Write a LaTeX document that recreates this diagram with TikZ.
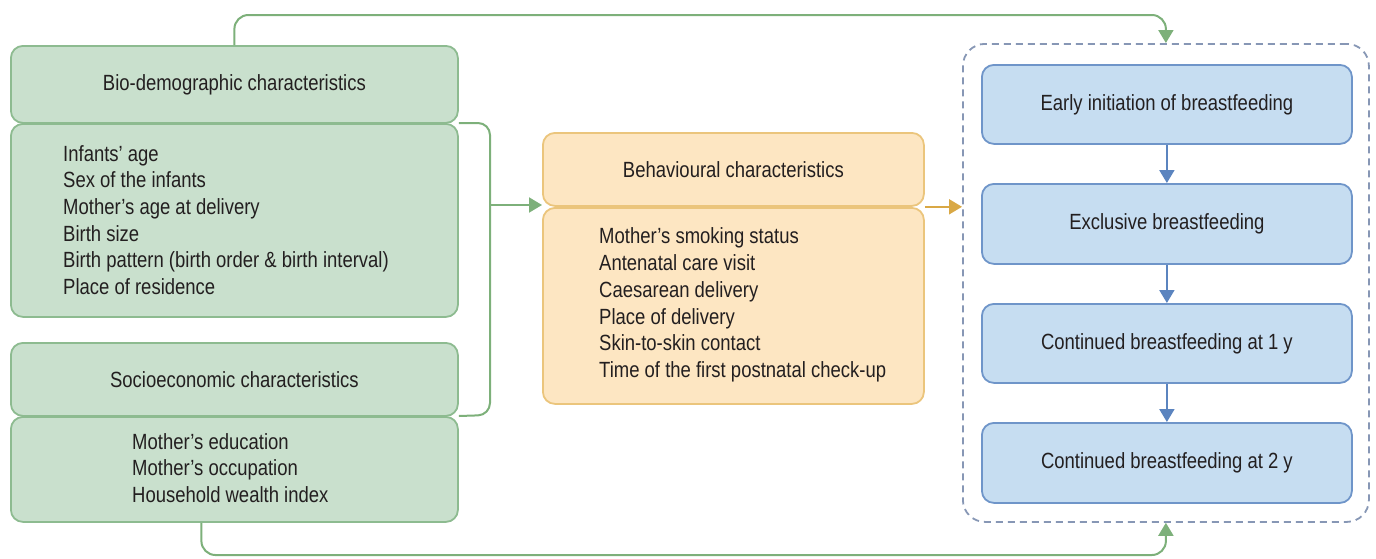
\documentclass[tikz,border=0pt]{standalone}
\usepackage{fontspec}
\setmainfont{Liberation Sans}[FakeStretch=0.84]
\usetikzlibrary{arrows.meta}
\definecolor{gfill}{HTML}{C9E0CD}
\definecolor{gline}{HTML}{8DBB90}
\definecolor{garr}{HTML}{7DB07A}
\definecolor{ofill}{HTML}{FDE6C2}
\definecolor{oline}{HTML}{EBC57C}
\definecolor{oarr}{HTML}{D9A845}
\definecolor{bfill}{HTML}{C6DDF1}
\definecolor{bline}{HTML}{6F95C9}
\definecolor{barr}{HTML}{5B84BF}
\definecolor{dline}{HTML}{8797B5}
\definecolor{txt}{HTML}{231F20}
\begin{document}
\begin{tikzpicture}[x=1pt,y=-1pt,
  every node/.style={text=txt,font=\fontsize{22}{26.7}\selectfont},
  boxbase/.style={draw,line width=1.8pt,rounded corners=12pt,inner sep=0pt,anchor=north west},
  gbox/.style={boxbase,fill=gfill,draw=gline,minimum width=447pt},
  obox/.style={boxbase,fill=ofill,draw=oline,minimum width=381pt},
  bbox/.style={boxbase,fill=bfill,draw=bline,minimum width=370pt},
  listtext/.style={align=left,anchor=west,inner sep=0pt},
  arr/.style={line width=2pt,-{Triangle[width=15pt,length=13pt]}},
]
\useasboundingbox (0,0) rectangle (1376,558);
% dashed outcome frame
\node[draw=dline,line width=1.8pt,dash pattern=on 7pt off 5pt,rounded corners=22pt,
      minimum width=406pt,minimum height=478pt,anchor=north west,inner sep=0pt] (dash) at (962,43) {};
% green boxes
\node[gbox,minimum height=77pt] (bh) at (10,45) {Bio-demographic characteristics};
\node[gbox,minimum height=193pt] (bl) at (10,123) {};
\node[listtext] (bt) at (63,220) {Infants’ age\\Sex of the infants\\Mother’s age at delivery\\Birth size\\Birth pattern (birth order \& birth interval)\\Place of residence};
\node[gbox,minimum height=73pt] (sh) at (10,342) {Socioeconomic characteristics};
\node[gbox,minimum height=105pt] (sl) at (10,416) {};
\node[listtext] (st) at (132,468) {Mother’s education\\Mother’s occupation\\Household wealth index};
% orange boxes
\node[obox,minimum height=73pt] (oh) at (542,132) {Behavioural characteristics};
\node[obox,minimum height=196pt] (ol) at (542,207) {};
\node[listtext] (ot) at (599,305) {Mother’s smoking status\\Antenatal care visit\\Caesarean delivery\\Place of delivery\\Skin-to-skin contact\\Time of the first postnatal check-up};
% blue boxes
\node[bbox,minimum height=79pt] (b1) at (981,64) {Early initiation of breastfeeding};
\node[bbox,minimum height=80pt] (b2) at (981,183) {Exclusive breastfeeding};
\node[bbox,minimum height=79pt] (b3) at (981,303) {Continued breastfeeding at 1 y};
\node[bbox,minimum height=80pt] (b4) at (981,422) {Continued breastfeeding at 2 y};
% bracket and arrows
\coordinate (brk) at (490,205);
\draw[garr,line width=2pt,rounded corners=12pt] (bl.north east) -- (490,123) -- (490,415) -- (sl.north east);
\draw[arr,garr] (brk) -- (brk -| oh.west);
\draw[arr,oarr] (oh.south east) -- (dash.west |- oh.south east);
\draw[arr,garr,rounded corners=14pt] (bh.north) -- (bh.north |- 0,15) -- (dash.north |- 0,15) -- (dash.north);
\draw[arr,garr,rounded corners=14pt] ([xshift=-33pt]sl.south) -- ([xshift=-33pt]sl.south |- 0,555) -- (dash.south |- 0,555) -- (dash.south);
\draw[arr,barr] (b1) -- (b2);
\draw[arr,barr] (b2) -- (b3);
\draw[arr,barr] (b3) -- (b4);
\end{tikzpicture}
\end{document}
